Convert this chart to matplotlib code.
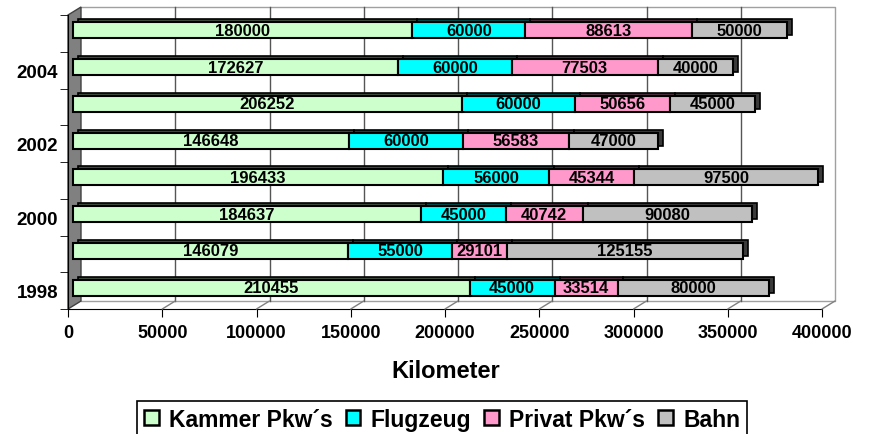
import numpy as np
import matplotlib
matplotlib.use("Agg")
import matplotlib.pyplot as plt
from matplotlib.transforms import offset_copy
from matplotlib.patches import Polygon, Patch

plt.rcParams['font.family'] = ['Liberation Sans', 'DejaVu Sans']
plt.rcParams['font.weight'] = 'bold'

# Daten (von unten nach oben)
jahre = ['1998', '1999', '2000', '2001', '2002', '2003', '2004', '2005']
jahr_labels = ['1998', '', '2000', '', '2002', '', '2004', '']
kammer_pkw = [210455, 146079, 184637, 196433, 146648, 206252, 172627, 180000]
flugzeug = [45000, 55000, 45000, 56000, 60000, 60000, 60000, 60000]
privat_pkw = [33514, 29101, 40742, 45344, 56583, 50656, 77503, 88613]
bahn = [80000, 125155, 90080, 97500, 47000, 45000, 40000, 50000]

serien = ['Kammer Pkw´s', 'Flugzeug', 'Privat Pkw´s', 'Bahn']
farben = ['#CCFFCC', '#00FFFF', '#FF99CC', '#C0C0C0']
schatten = ['#3d4d3d', '#004c4c', '#4c2e3d', '#3a3a3a']
x_ticks = [0, 50000, 100000, 150000, 200000, 250000, 300000, 350000, 400000]

fig = plt.figure(figsize=(8.76, 4.35), dpi=100)
ax = fig.add_axes([68 / 876, (435 - 310) / 435, 754 / 876, 294 / 435])

y = np.arange(len(jahre))
hoehe = 0.44

# 3D-Versatz in Pixeln
front = offset_copy(ax.transData, fig=fig, x=5, y=3, units='dots')
tiefe = offset_copy(ax.transData, fig=fig, x=10, y=6, units='dots')

werte = [kammer_pkw, flugzeug, privat_pkw, bahn]
links = np.zeros(len(jahre))
for w, f, s in zip(werte, farben, schatten):
    back = ax.barh(y, w, left=links, height=hoehe, color=s, edgecolor='black', linewidth=1.2)
    for p in back:
        p.set_transform(tiefe)
        p.set_clip_on(False)
    links = links + np.array(w)

links = np.zeros(len(jahre))
for w, f in zip(werte, farben):
    bars = ax.barh(y, w, left=links, height=hoehe, color=f, edgecolor='black', linewidth=1.5)
    for p in bars:
        p.set_transform(front)
        p.set_clip_on(False)
    for yi, li, wi in zip(y, links, w):
        ax.text(li + wi / 2, yi, str(wi), transform=front, ha='center', va='center',
                fontsize=12, fontweight='bold', clip_on=False, zorder=5)
    links = links + np.array(w)

ax.set_xlim(0, 400000)
ax.set_ylim(-0.5, 7.5)

# Rückwand, Boden, Seitenwand
dx, dy = 13 / 754, 8 / 294
grid_tr = offset_copy(ax.get_xaxis_transform(), fig=fig, x=13, y=8, units='dots')
for v in x_ticks[1:-1]:
    ax.plot([v, v], [0, 1], transform=grid_tr, color='#555555', lw=1, zorder=0.5, clip_on=False)
for v in x_ticks[1:]:
    ax.annotate('', xy=(v, 0), xycoords=ax.get_xaxis_transform(), xytext=(13, 8),
                textcoords='offset pixels',
                arrowprops=dict(arrowstyle='-', color='#808080', lw=1, shrinkA=0, shrinkB=0))
ax.plot([dx, 1 + dx, 1 + dx, dx], [1 + dy, 1 + dy, dy, dy], transform=ax.transAxes,
        color='#a0a0a0', lw=1, clip_on=False, zorder=0.4)
wand = Polygon([(0, 0), (dx, dy), (dx, 1 + dy), (0, 1)], closed=True, transform=ax.transAxes,
               facecolor='#808080', edgecolor='#404040', lw=1, clip_on=False, zorder=0.6)
ax.add_patch(wand)

for s in ['top', 'right']:
    ax.spines[s].set_visible(False)
ax.spines['left'].set_color('black')
ax.spines['bottom'].set_color('black')

ax.set_xticks(x_ticks)
ax.set_xticklabels([str(v) for v in x_ticks], fontsize=13, fontweight='bold')
ax.tick_params(axis='x', length=6, pad=5)
ax.set_yticks(y)
ax.set_yticklabels(jahr_labels, fontsize=13.5, fontweight='bold')
ax.tick_params(axis='y', which='major', length=0, pad=7)
ax.set_yticks(np.arange(-0.5, 8, 1), minor=True)
ax.tick_params(axis='y', which='minor', length=6)

fig.text(446 / 876, 1 - 372 / 435, 'Kilometer', ha='center', va='center',
         fontsize=17, fontweight='bold')

handles = [Patch(facecolor=f, edgecolor='black', linewidth=1.8) for f in farben]
leg = fig.legend(handles, serien, loc='upper center', bbox_to_anchor=(442 / 876, 1 - 402 / 435),
                 ncol=4, frameon=True, fancybox=False, edgecolor='black', framealpha=1,
                 prop={'size': 16.5, 'weight': 'bold'}, handlelength=0.65, handleheight=0.65,
                 handletextpad=0.45, columnspacing=0.55, borderpad=0.3, borderaxespad=0)
leg.get_frame().set_linewidth(1.2)

fig.savefig('out.png', dpi=100)
